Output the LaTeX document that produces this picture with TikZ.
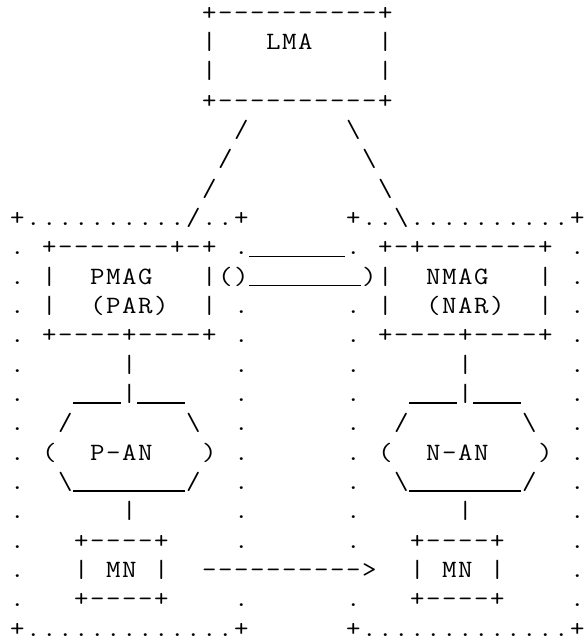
\documentclass[tikz,border=0pt]{standalone}
\usepackage{graphicx}
\newcommand\asciirowtext[1]{\asciiloop#1\relax}
\newcommand\asciiloop[1]{\ifx#1\relax\else\makebox[16pt]{\scalebox{1.13}[1]{#1}}\expandafter\asciiloop\fi}
\newcommand\bs{\textbackslash}
\newcommand\us{\rule[-2.4pt]{14.16pt}{1.3pt}}
\tikzset{
  asciirow/.style={anchor=base west, inner sep=0pt, outer sep=0pt,
    font=\ttfamily\fontsize{24.9}{30}\selectfont}
}
\begin{document}
\begin{tikzpicture}[x=1pt,y=1pt]
\path[fill=white] (0,0) rectangle (588,-640);
\useasboundingbox (0,0) rectangle (588,-640);
\node[asciirow] (r0)  at (9.3,-20)     {\asciirowtext{~~~~~~~~~~~~+----------+}};
\node[asciirow] (r1)  at (9.3,-49.33)  {\asciirowtext{~~~~~~~~~~~~|~~~LMA~~~~|}};
\node[asciirow] (r2)  at (9.3,-78.67)  {\asciirowtext{~~~~~~~~~~~~|~~~~~~~~~~|}};
\node[asciirow] (r3)  at (9.3,-108)    {\asciirowtext{~~~~~~~~~~~~+----------+}};
\node[asciirow] (r4)  at (9.3,-137.33) {\asciirowtext{~~~~~~~~~~~~~~/~~~~~~\bs}};
\node[asciirow] (r5)  at (9.3,-166.67) {\asciirowtext{~~~~~~~~~~~~~/~~~~~~~~\bs}};
\node[asciirow] (r6)  at (9.3,-196)    {\asciirowtext{~~~~~~~~~~~~/~~~~~~~~~~\bs}};
\node[asciirow] (r7)  at (9.3,-225.33) {\asciirowtext{+........../..+~~~~~~+..\bs..........+}};
\node[asciirow] (r8)  at (9.3,-254.67) {\asciirowtext{.~+-------+-+~.\us\us\us\us\us\us.~+-+-------+~.}};
\node[asciirow] (r9)  at (9.3,-284)    {\asciirowtext{.~|~~PMAG~~~|()\us\us\us\us\us\us\us)|~~NMAG~~~|~.}};
\node[asciirow] (r10) at (9.3,-313.33) {\asciirowtext{.~|~~(PAR)~~|~.~~~~~~.~|~~(NAR)~~|~.}};
\node[asciirow] (r11) at (9.3,-342.67) {\asciirowtext{.~+----+----+~.~~~~~~.~+----+----+~.}};
\node[asciirow] (r12) at (9.3,-372)    {\asciirowtext{.~~~~~~|~~~~~~.~~~~~~.~~~~~~|~~~~~~.}};
\node[asciirow] (r13) at (9.3,-401.33) {\asciirowtext{.~~~\us\us\us|\us\us\us~~~.~~~~~~.~~~\us\us\us|\us\us\us~~~.}};
\node[asciirow] (r14) at (9.3,-430.67) {\asciirowtext{.~~/~~~~~~~\bs~~.~~~~~~.~~/~~~~~~~\bs~~.}};
\node[asciirow] (r15) at (9.3,-460)    {\asciirowtext{.~(~~P-AN~~~)~.~~~~~~.~(~~N-AN~~~)~.}};
\node[asciirow] (r16) at (9.3,-489.33) {\asciirowtext{.~~\bs\us\us\us\us\us\us\us/~~.~~~~~~.~~\bs\us\us\us\us\us\us\us/~~.}};
\node[asciirow] (r17) at (9.3,-518.67) {\asciirowtext{.~~~~~~|~~~~~~.~~~~~~.~~~~~~|~~~~~~.}};
\node[asciirow] (r18) at (9.3,-548)    {\asciirowtext{.~~~+----+~~~~.~~~~~~.~~~+----+~~~~.}};
\node[asciirow] (r19) at (9.3,-577.33) {\asciirowtext{.~~~|~MN~|~~---------->~~|~MN~|~~~~.}};
\node[asciirow] (r20) at (9.3,-606.67) {\asciirowtext{.~~~+----+~~~~.~~~~~~.~~~+----+~~~~.}};
\node[asciirow] (r21) at (9.3,-636)    {\asciirowtext{+.............+~~~~~~+.............+}};
\end{tikzpicture}
\end{document}
